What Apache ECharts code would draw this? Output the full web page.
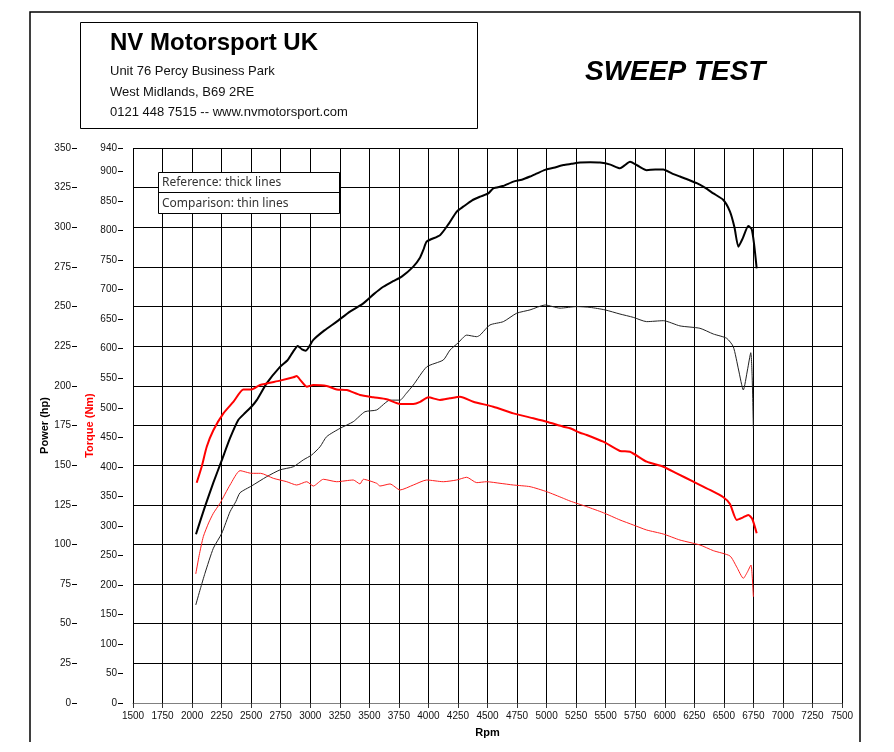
<!DOCTYPE html>
<html>
<head>
<meta charset="utf-8">
<script src="https://cdn.jsdelivr.net/npm/echarts@6/dist/echarts.min.js"></script>
<style>
  html, body { margin: 0; padding: 0; background: #fff; }
  #main { width: 894px; height: 752px; }
</style>
</head>
<body>
<div id="main"></div>
<script>
  // reference run - power (thick black)
  var refPowerRpm = [2033, 2070, 2109, 2180, 2251, 2321, 2391, 2450, 2504, 2547, 2631, 2744, 2806, 2850, 2894, 2930, 2962, 3026, 3120, 3224, 3336, 3449, 3540, 3618, 3700, 3774, 3872, 3930, 3957, 3986, 4098, 4170, 4240, 4295, 4370, 4437, 4507, 4549, 4630, 4719, 4790, 4860, 4920, 4987, 5060, 5142, 5210, 5283, 5370, 5452, 5540, 5621, 5660, 5706, 5780, 5847, 5920, 5988, 6060, 6129, 6200, 6271, 6340, 6411, 6496, 6552, 6590, 6623, 6660, 6707, 6735, 6755, 6778];
  var refPowerHp = [106.4, 115, 123.8, 139, 153, 167, 178.5, 183, 187, 191, 201.6, 212, 216, 221, 225.2, 223, 222.2, 229, 235, 240.5, 246.8, 252, 258, 262.5, 266, 268.9, 275.2, 281, 285.7, 291, 295, 302, 309.9, 313, 317, 319.3, 321.4, 324.6, 326, 328.8, 330, 332, 334, 336.2, 337.5, 339.3, 340, 340.8, 341, 340.8, 339.5, 337.2, 339, 341.4, 338.5, 336, 336.5, 336.5, 334, 332, 330, 327.8, 325, 321.4, 317.2, 309.9, 300, 287.8, 293, 300.8, 299, 290, 274.1];

  // comparison run - power (thin black)
  var cmpPowerRpm = [2031, 2070, 2109, 2180, 2251, 2321, 2370, 2406, 2504, 2631, 2744, 2857, 2941, 3012, 3083, 3139, 3252, 3364, 3463, 3562, 3675, 3760, 3810, 3872, 3986, 4126, 4183, 4250, 4324, 4409, 4437, 4521, 4634, 4747, 4860, 4987, 5114, 5255, 5368, 5495, 5621, 5734, 5847, 5988, 6129, 6298, 6411, 6524, 6580, 6625, 6665, 6700, 6728, 6740, 6750];
  var cmpPowerHp = [61.8, 72, 81.8, 97.6, 107, 120.6, 127, 132.6, 136.9, 142.7, 147, 149, 153.3, 156.4, 161.6, 168, 173.2, 177.4, 183.7, 184.8, 191, 191, 195, 200.5, 212, 216.3, 222.6, 227, 232, 231, 232, 238.4, 240.5, 245.8, 247.9, 251, 249, 250, 249.5, 247.9, 245.3, 243.2, 240.5, 241.1, 237.8, 236.3, 232.7, 230, 224.7, 210, 197.4, 210, 220.9, 205, 173.2];

  // reference run - torque (thick red)
  var refTorqueRpm = [2039, 2081, 2124, 2180, 2265, 2349, 2434, 2504, 2575, 2744, 2857, 2885, 2920, 2970, 3026, 3139, 3224, 3309, 3421, 3534, 3647, 3760, 3872, 3930, 3999, 4098, 4180, 4267, 4380, 4549, 4719, 4888, 5001, 5142, 5198, 5283, 5340, 5480, 5621, 5706, 5847, 5988, 6101, 6242, 6383, 6496, 6552, 6609, 6660, 6707, 6740, 6778];
  var refTorqueNm = [373, 400, 434, 462, 490.6, 510, 531, 531, 538.6, 546, 551.6, 553.8, 546, 535.7, 538.6, 537, 531, 530, 521.7, 517.8, 514.4, 506.4, 506.4, 510, 517.8, 513.2, 516, 518.8, 510.3, 501.8, 490.6, 482.2, 476.4, 468, 465.3, 457.8, 454, 442.6, 426.8, 425.6, 408.7, 400.2, 389, 374.8, 360.8, 348.4, 337, 310, 314, 318.4, 312, 287.4];

  // comparison run - torque (thin red)
  var cmpTorqueRpm = [2031, 2060, 2095, 2140, 2180, 2236, 2321, 2406, 2504, 2580, 2687, 2801, 2885, 2970, 3026, 3111, 3224, 3364, 3421, 3449, 3562, 3590, 3675, 3760, 3872, 3986, 4126, 4239, 4324, 4409, 4493, 4606, 4719, 4860, 5001, 5142, 5198, 5340, 5480, 5621, 5734, 5847, 5988, 6129, 6298, 6411, 6552, 6610, 6665, 6700, 6730, 6740, 6750];
  var cmpTorqueNm = [218.5, 250, 281.7, 305, 321.3, 338.2, 369.2, 393.5, 389, 389, 380.6, 374.8, 369.2, 374.8, 367.5, 378.9, 374.8, 377.7, 371, 378.9, 372.1, 367.5, 371, 360.8, 369.2, 377.7, 374.8, 377.7, 382.3, 373.2, 374.8, 372.1, 369.2, 366.4, 357.9, 346.7, 342.1, 332.5, 322.3, 310, 301.5, 293, 286.2, 276, 267.6, 258, 249, 230, 211.2, 222, 233.7, 215, 180];

  var headerLines = ['Unit 76 Percy Business Park', 'West Midlands, B69 2RE', '0121 448 7515 -- www.nvmotorsport.com'];
  var legendLines = ['Reference: thick lines', 'Comparison: thin lines'];

  function pairs(xs, ys) {
    return xs.map(function (x, i) { return [x, ys[i]]; });
  }

  var chart = echarts.init(document.getElementById('main'));
  var font = 'Liberation Sans, Arial, sans-serif';

  var option = {
    animation: false,
    backgroundColor: '#fff',
    grid: { left: 133, right: 52, top: 148, bottom: 49 },
    xAxis: {
      type: 'value',
      min: 1500, max: 7500, interval: 250,
      name: 'Rpm',
      nameLocation: 'middle',
      nameGap: 24,
      nameMoveOverlap: false,
      nameTextStyle: { fontFamily: font, fontWeight: 'bold', fontSize: 11, color: '#000' },
      axisLine: { lineStyle: { color: '#808080', width: 1 } },
      axisTick: { show: true, length: 5, lineStyle: { color: '#333' } },
      axisLabel: { fontFamily: font, fontSize: 10, color: '#111', margin: 8, formatter: function (v) { return String(v); } },
      splitLine: { show: true, lineStyle: { color: '#000', width: 1 } }
    },
    yAxis: [
      {
        type: 'value',
        position: 'left',
        offset: 56,
        min: 0, max: 350, interval: 25,
        name: 'Power (hp)',
        nameLocation: 'middle',
        nameGap: 27,
        nameMoveOverlap: false,
        nameTextStyle: { fontFamily: font, fontWeight: 'bold', fontSize: 11, color: '#000' },
        axisLine: { show: false },
        axisTick: { show: true, length: 5, lineStyle: { color: '#000' } },
        axisLabel: { fontFamily: font, fontSize: 10, color: '#111', margin: 6 },
        splitLine: { show: true, lineStyle: { color: '#000', width: 1 } }
      },
      {
        type: 'value',
        position: 'left',
        offset: 10,
        min: 0, max: 940, interval: 50,
        name: 'Torque (Nm)',
        nameLocation: 'middle',
        nameGap: 28,
        nameMoveOverlap: false,
        nameTextStyle: { fontFamily: font, fontWeight: 'bold', fontSize: 11, color: '#ff0000' },
        axisLine: { show: false },
        axisTick: { show: true, length: 5, lineStyle: { color: '#000' } },
        axisLabel: { fontFamily: font, fontSize: 10, color: '#111', margin: 6 },
        splitLine: { show: false }
      }
    ],
    series: [
      {
        name: 'Comparison power', type: 'line', yAxisIndex: 0, showSymbol: false, smooth: 0.2,
        lineStyle: { color: '#222', width: 1 }, itemStyle: { color: '#222' },
        data: pairs(cmpPowerRpm, cmpPowerHp)
      },
      {
        name: 'Comparison torque', type: 'line', yAxisIndex: 1, showSymbol: false, smooth: 0.2,
        lineStyle: { color: '#ff2020', width: 1 }, itemStyle: { color: '#ff2020' },
        data: pairs(cmpTorqueRpm, cmpTorqueNm)
      },
      {
        name: 'Reference power', type: 'line', yAxisIndex: 0, showSymbol: false, smooth: 0.2,
        lineStyle: { color: '#000', width: 2 }, itemStyle: { color: '#000' },
        data: pairs(refPowerRpm, refPowerHp)
      },
      {
        name: 'Reference torque', type: 'line', yAxisIndex: 1, showSymbol: false, smooth: 0.2,
        lineStyle: { color: '#ff0000', width: 2 }, itemStyle: { color: '#ff0000' },
        data: pairs(refTorqueRpm, refTorqueNm)
      }
    ],
    graphic: [
      // page frame
      { type: 'polyline', silent: true, shape: { points: [[30, 742], [30, 12], [860, 12], [860, 742]] }, style: { stroke: '#000', lineWidth: 1.5, fill: null } },
      // header box
      { type: 'rect', silent: true, shape: { x: 80.5, y: 22.5, width: 397, height: 106 }, style: { stroke: '#000', lineWidth: 1, fill: '#fff' } },
      { type: 'text', silent: true, x: 110, y: 43, style: { text: 'NV Motorsport UK', font: 'bold 24px ' + font, fill: '#000', verticalAlign: 'middle' } },
      { type: 'text', silent: true, x: 110, y: 71.5, style: { text: headerLines[0], font: '13px ' + font, fill: '#111', verticalAlign: 'middle' } },
      { type: 'text', silent: true, x: 110, y: 92.5, style: { text: headerLines[1], font: '13px ' + font, fill: '#111', verticalAlign: 'middle' } },
      { type: 'text', silent: true, x: 110, y: 112.5, style: { text: headerLines[2], font: '13px ' + font, fill: '#111', verticalAlign: 'middle' } },
      { type: 'text', silent: true, x: 585, y: 72, style: { text: 'SWEEP TEST', font: 'italic bold 28px ' + font, fill: '#000', verticalAlign: 'middle' } },
      // legend box
      { type: 'rect', silent: true, z: 100, shape: { x: 158.5, y: 172.5, width: 181, height: 41 }, style: { stroke: '#000', lineWidth: 1, fill: '#fff' } },
      { type: 'line', silent: true, z: 101, shape: { x1: 158.5, y1: 192.5, x2: 339.5, y2: 192.5 }, style: { stroke: '#000', lineWidth: 1 } },
      { type: 'text', silent: true, z: 102, x: 162, y: 182.5, style: { text: legendLines[0], font: '12px Noto Sans, sans-serif', fill: '#333', verticalAlign: 'middle' } },
      { type: 'text', silent: true, z: 102, x: 162, y: 203.5, style: { text: legendLines[1], font: '12px Noto Sans, sans-serif', fill: '#333', verticalAlign: 'middle' } }
    ]
  };

  chart.setOption(option);
</script>
</body>
</html>
